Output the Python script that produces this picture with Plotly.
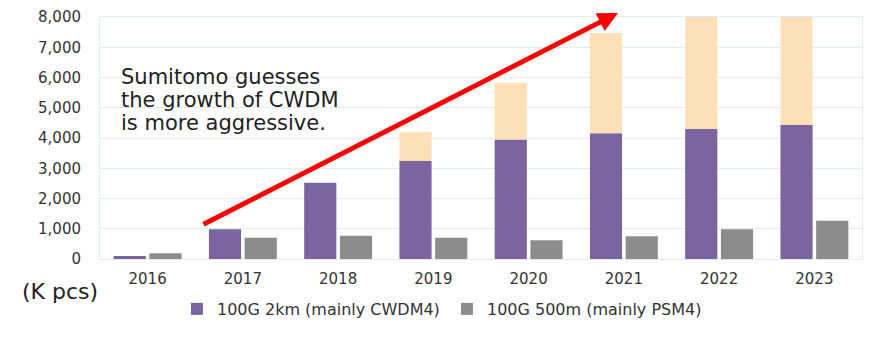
import plotly.graph_objects as go

years = [2016, 2017, 2018, 2019, 2020, 2021, 2022, 2023]
tick_labels = ["2016", "2017", "2018", "2019", "2020", "2021", "2022", "2023"]
cwdm4_2km = [100, 980, 2520, 3250, 3950, 4160, 4300, 4430]
psm4_500m = [190, 700, 770, 705, 620, 750, 980, 1265]
sumitomo_total = [None, None, None, 4190, 5820, 7470, 8000, 8000]

name_cwdm = "100G 2km (mainly CWDM4)"
name_psm = "100G 500m (mainly PSM4)"
note_lines = ["Sumitomo guesses", "the growth of CWDM", "is more aggressive."]

extra = [None if t is None else t - p for t, p in zip(sumitomo_total, cwdm4_2km)]
extra_base = [None if t is None else p for t, p in zip(sumitomo_total, cwdm4_2km)]

PURPLE = "#7b64a0"
PEACH = "#fde0b6"
GRAY = "#8c8c8c"
GRID = "#dcedf4"
FONT = "DejaVu Sans"

fig = go.Figure()
fig.add_trace(go.Bar(x=years, y=cwdm4_2km, name=name_cwdm, marker_color=PURPLE,
                     marker_line_width=0, offsetgroup="a"))
fig.add_trace(go.Bar(x=years, y=extra, base=extra_base, name="Sumitomo estimate",
                     marker_color=PEACH, marker_line_width=0, offsetgroup="a",
                     showlegend=False))
fig.add_trace(go.Bar(x=years, y=psm4_500m, name=name_psm, marker_color=GRAY,
                     marker_line_width=0, offsetgroup="b"))

# page body has an 8px default margin, so the figure is sized to fit the window
fig.update_layout(
    width=867, height=348,
    margin=dict(l=92, r=13, t=9, b=97, autoexpand=False),
    barmode="group", bargap=0.25, bargroupgap=0.1,
    plot_bgcolor="white", paper_bgcolor="white",
    font=dict(family=FONT, size=15, color="#333333"),
    showlegend=True,
    legend=dict(orientation="h", x=0.101, xanchor="left", y=-0.2066, yanchor="middle",
                font=dict(size=16, color="#333333"), entrywidth=225,
                entrywidthmode="pixels", traceorder="normal", bgcolor="rgba(0,0,0,0)"),
)
fig.update_xaxes(range=[2015.5, 2023.5], tickmode="array", tickvals=years,
                 ticktext=tick_labels, showgrid=False, showline=True, linecolor=GRID,
                 linewidth=1, mirror=True, ticks="", tickfont=dict(size=15),
                 ticklabelstandoff=6, zeroline=False)
fig.update_yaxes(range=[0, 8000], dtick=1000, tickformat=",d", showgrid=True,
                 gridcolor=GRID, gridwidth=1, showline=True, linecolor=GRID,
                 mirror=True, ticks="", ticklabelstandoff=15, tickfont=dict(size=15),
                 zeroline=False)

# red trend arrow
fig.add_annotation(x=2020.938, y=8132, ax=2016.571, ay=1124, xref="x", yref="y",
                   axref="x", ayref="y", showarrow=True, arrowhead=2, arrowsize=0.8,
                   arrowwidth=5, arrowcolor="#ff0000", text="", standoff=0)

note_y = [0.752, 0.657, 0.564]
for line, yy in zip(note_lines, note_y):
    fig.add_annotation(x=0.0249, y=yy, xref="paper", yref="paper", text=line,
                       showarrow=False, xanchor="left", yanchor="middle",
                       font=dict(size=21, color="#222222", family=FONT))

fig.add_annotation(x=-0.0525, y=-0.136, xref="paper", yref="paper", text="(K pcs)",
                   showarrow=False, xanchor="center", yanchor="middle",
                   font=dict(size=22, color="#222222", family=FONT))

fig.write_html("out.html")
